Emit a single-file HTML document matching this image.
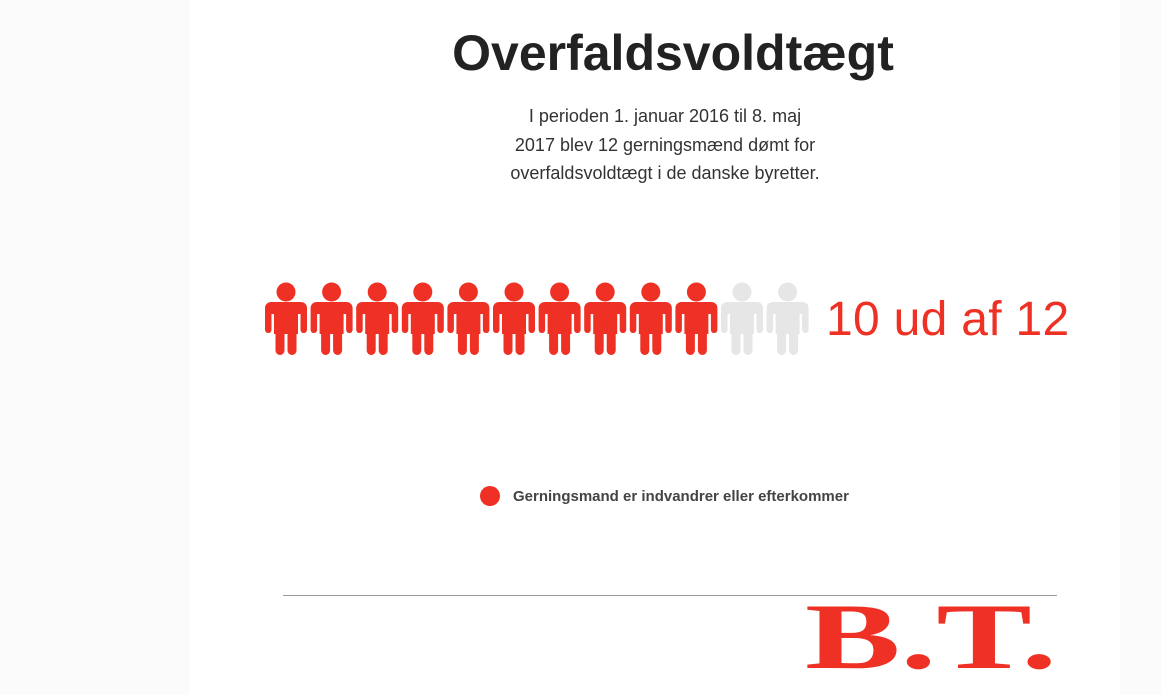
<!DOCTYPE html>
<html><head><meta charset="utf-8"><style>
body{margin:0;width:1161px;height:695px;background:#fff;overflow:hidden;position:relative;font-family:"Liberation Sans",sans-serif}
.side{position:absolute;top:0;height:695px;background:#fbfbfb}
</style></head><body>
<div class="side" style="left:0;width:190px"></div>
<div class="side" style="left:1120px;width:41px"></div>
<div style="position:absolute;left:190px;width:966px;top:24px;text-align:center;font-size:50px;font-weight:bold;color:#222;letter-spacing:0px">Overfaldsvoldtægt</div>
<div style="position:absolute;left:465px;width:400px;top:102px;text-align:center;font-size:18px;line-height:28.5px;color:#333">I perioden 1. januar 2016 til 8. maj<br>2017 blev 12 gerningsmænd dømt for<br>overfaldsvoldtægt i de danske byretter.</div>
<svg id="chart" width="1161" height="695" style="position:absolute;left:0;top:0"></svg>
<div style="position:absolute;left:826px;top:292px;font-size:48px;color:#ee3124;letter-spacing:0.3px">10 ud af 12</div>
<div style="position:absolute;left:480px;top:486px;font-size:15px;color:#444;font-weight:bold;display:flex;align-items:center">
<span style="width:20px;height:20px;border-radius:50%;background:#ee3124;display:inline-block;margin-right:13px"></span>Gerningsmand er indvandrer eller efterkommer</div>
<div style="position:absolute;left:283px;top:595px;width:774px;height:1px;background:#999"></div>
<svg width="260" height="80" style="position:absolute;left:800px;top:598px">
<text x="5" y="70" font-family="Liberation Serif" font-weight="bold" font-size="94" fill="#ee3124" textLength="252" lengthAdjust="spacingAndGlyphs">B.T.</text>
</svg>
<script>
const total=[12];
const highlighted=[10];
const svg=document.getElementById('chart');
const NS='http://www.w3.org/2000/svg';
const x0=286,pitch=45.6,yHead=292;
function px(i){return x0+i*pitch;}
for(let i=0;i<total[0];i++){
  const g=document.createElementNS(NS,'g');
  
  
  g.setAttribute('fill',i<highlighted[0]?'#ee3124':'#e6e6e6');
  const cx=px(i);
  g.innerHTML=`<circle cx="${cx}" cy="${yHead}" r="9.5"/>
  <rect x="${cx-21}" y="302" width="42" height="12" rx="6"/>
  <rect x="${cx-21}" y="306" width="6.5" height="27" rx="3.2"/>
  <rect x="${cx+14.5}" y="306" width="6.5" height="27" rx="3.2"/>
  <rect x="${cx-12}" y="304" width="24" height="30"/>
  <rect x="${cx-10.5}" y="320" width="9" height="35" rx="4.5"/>
  <rect x="${cx+1.5}" y="320" width="9" height="35" rx="4.5"/>`;
  svg.appendChild(g);
}
</script>
</body></html>
